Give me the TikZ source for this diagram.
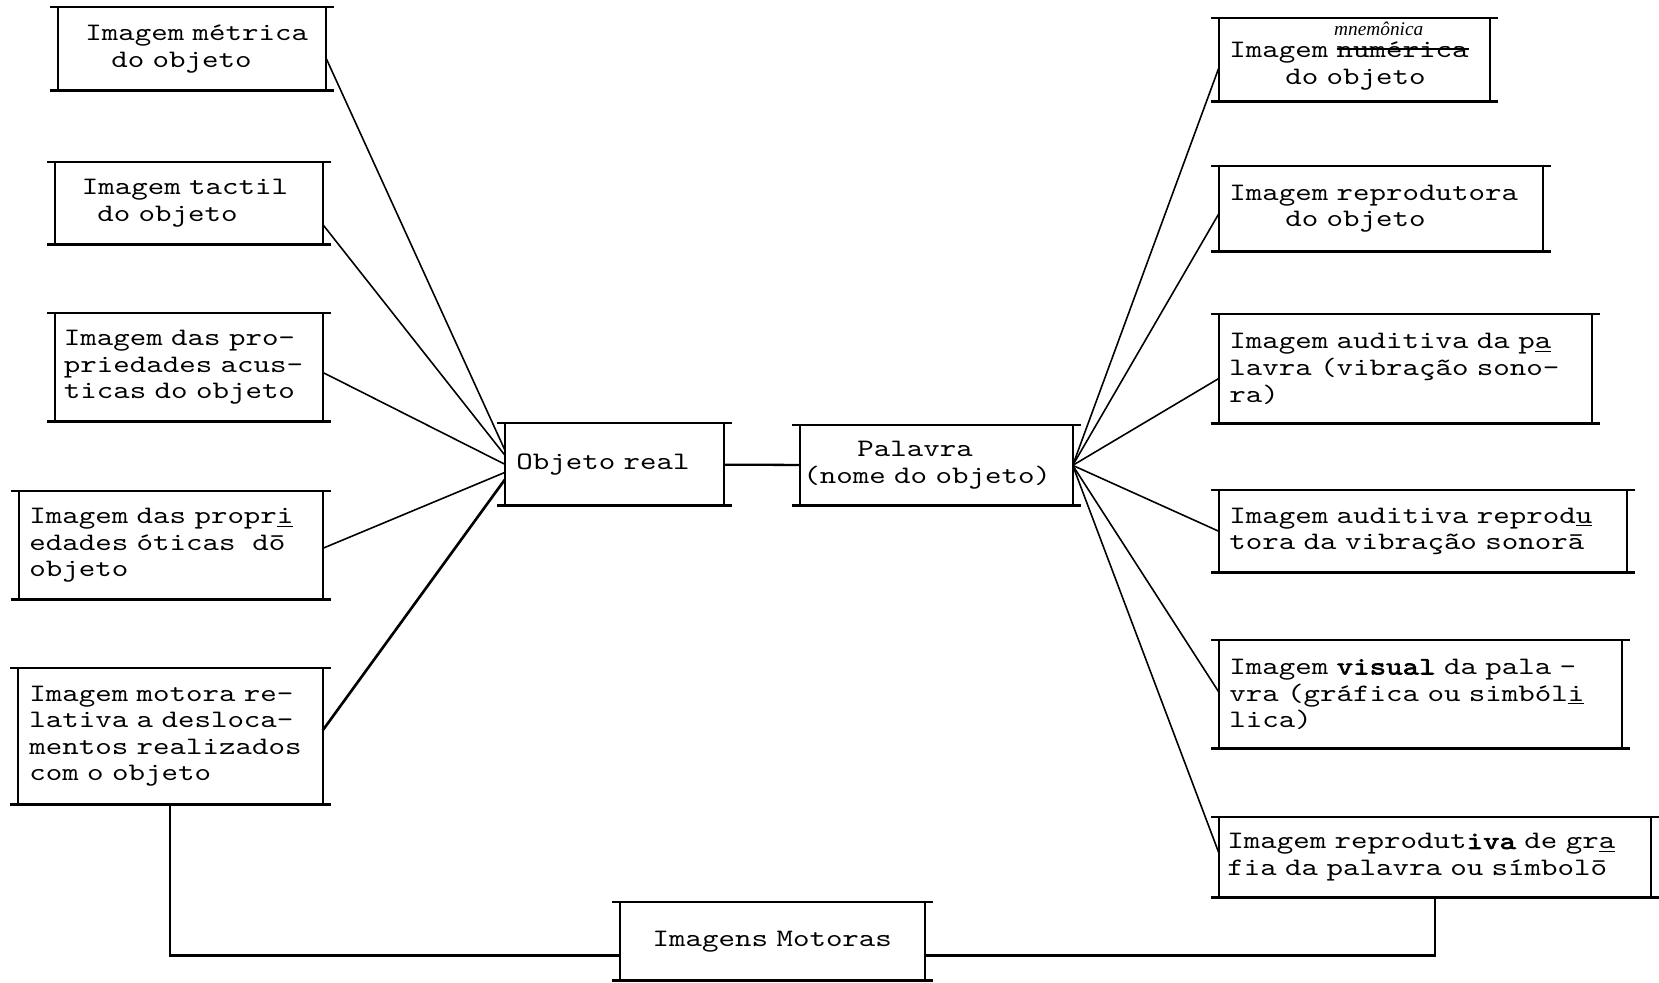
\documentclass[tikz,border=0pt]{standalone}
\usepackage{fontspec}
\setmainfont{Liberation Serif}
\newfontfamily\handfont{Liberation Serif}
\newfontfamily\typefont{lmmono10-regular}[Extension=.otf, FakeStretch=1.25,
  BoldFont=lmmono10-regular, BoldFeatures={FakeBold=2.5}]
\usetikzlibrary{positioning,calc}
\setlength\lineskiplimit{-20pt}

\newcommand\typewriter{\typefont\fontsize{14.3}{15.1}\selectfont}
\newsavebox\strikebox
\newcommand\crossout[1]{\sbox\strikebox{#1}\rlap{\usebox\strikebox}\rule[0.3em]{\wd\strikebox}{0.09em}}

\tikzset{
  tbox/.style={anchor=north west, inner xsep=1mm, inner ysep=0pt, align=left,
    font=\typewriter},
  rbox/.style={tbox, inner xsep=2mm},
  hline/.style={line width=1.6pt},
  vline/.style={line width=1pt},
  link/.style={line width=0.9pt},
}

\begin{document}
\begin{tikzpicture}[x=0.2mm, y=-0.2mm]
  \useasboundingbox (0,0) rectangle (1659,982);

  % left column
  \node[tbox, text width=51.4mm, minimum height=16.6mm] (metrica) at (58,7)
    {\hspace*{4.4mm}Imagem métrica\\\hspace*{9.6mm}do objeto};
  \node[tbox, text width=51.4mm, minimum height=16.4mm] (tactil) at (55,162)
    {\hspace*{4.3mm}Imagem tactil\\\hspace*{7.4mm}do objeto};
  \node[tbox, inner xsep=1.7mm, text width=50mm, minimum height=21.6mm] (acustica) at (55,313)
    {Imagem das pro-\\priedades acus-\\ticas do objeto};
  \node[tbox, inner xsep=2mm, text width=56.6mm, minimum height=21.6mm] (otica) at (19,491)
    {Imagem das propr\underline{i}\\edades óticas\ \ dō\\objeto};
  \node[tbox, inner xsep=2.2mm, text width=56.4mm, minimum height=27.2mm] (motora) at (18,668)
    {Imagem motora re-\\lativa a desloca-\\mentos realizados\\com o objeto};

  % centre
  \node[tbox, inner xsep=2.2mm, text width=39.2mm, minimum height=16.4mm] (objeto) at (505,423)
    {Objeto real};
  \node[tbox, inner xsep=0.6mm, text width=53.2mm, minimum height=16mm] (palavra) at (800,425)
    {\hspace*{10.8mm}Palavra\\(nome do objeto)};
  \node[tbox, align=center, text width=58.8mm, minimum height=15.6mm] (motoras) at (620,902)
    {Imagens Motoras};

  % right column
  \node[rbox, text width=50mm, minimum height=16.6mm] (mnem) at (1219,18)
    {\rule{0pt}{5.5mm}Imagem \rlap{\smash{\hspace*{-0.5mm}\raisebox{4.4mm}{\handfont\itshape\fontsize{11}{12}\selectfont mnemônica}}}\crossout{numérica}\\\hspace*{11.2mm}do objeto};
  \node[rbox, text width=60.6mm, minimum height=17mm] (reprod) at (1219,166)
    {Imagem reprodutora\\\hspace*{11.2mm}do objeto};
  \node[rbox, text width=70.4mm, minimum height=21.8mm] (audpal) at (1219,314)
    {Imagem auditiva da p\underline{a}\\lavra (vibração sono-\\ra)};
  \node[rbox, text width=77.4mm, minimum height=16.4mm] (audrep) at (1219,490)
    {Imagem auditiva reprod\underline{u}\\tora da vibração sonorā};
  \node[rbox, text width=76.4mm, minimum height=21.6mm] (visual) at (1219,640)
    {Imagem \textbf{visual} da pala -\\vra (gráfica ou simból\underline{i}\\lica)};
  \node[rbox, inner xsep=1.6mm, text width=83mm, minimum height=16mm] (grafia) at (1219,817)
    {Imagem reprodut\textbf{iva} de gr\underline{a}\\fia da palavra ou símbolō};

  % typed frames
  \foreach \n in {metrica,tactil,acustica,otica,motora,objeto,palavra,motoras,
                  mnem,reprod,audpal,audrep,visual,grafia} {
    \draw[hline] ([xshift=-1.6mm]\n.north west) -- ([xshift=1.6mm]\n.north east)
                 ([xshift=-1.6mm]\n.south west) -- ([xshift=1.6mm]\n.south east);
    \draw[vline] (\n.north west) -- (\n.south west) (\n.north east) -- (\n.south east);
  }

  % connectors
  \foreach \n/\p/\q in {metrica/-1.7/2.8, tactil/-4.2/1.8, acustica/-1/0, otica/-0.6/-1.6}
    \draw[link] ([yshift=\p mm]\n.east) -- ([yshift=\q mm]objeto.west);
  \draw[link, line width=1.5pt] ([yshift=1.2mm]motora.east) -- ([yshift=-3mm]objeto.west);
  \draw[link, line width=1.3pt] (objeto) -- (palavra);
  \foreach \n/\p in {mnem/-1.5, reprod/-0.9, audpal/-1.9, audrep/0, visual/0.4, grafia/0.8}
    \draw[link] (palavra.east) -- ([yshift=\p mm]\n.west);
  \draw[link, line width=1.3pt] (motora.south) |- ([yshift=-2.8mm]motoras.west);
  \draw[link, line width=1.3pt] ([yshift=-2.8mm]motoras.east) -| (grafia.south);
\end{tikzpicture}
\end{document}
